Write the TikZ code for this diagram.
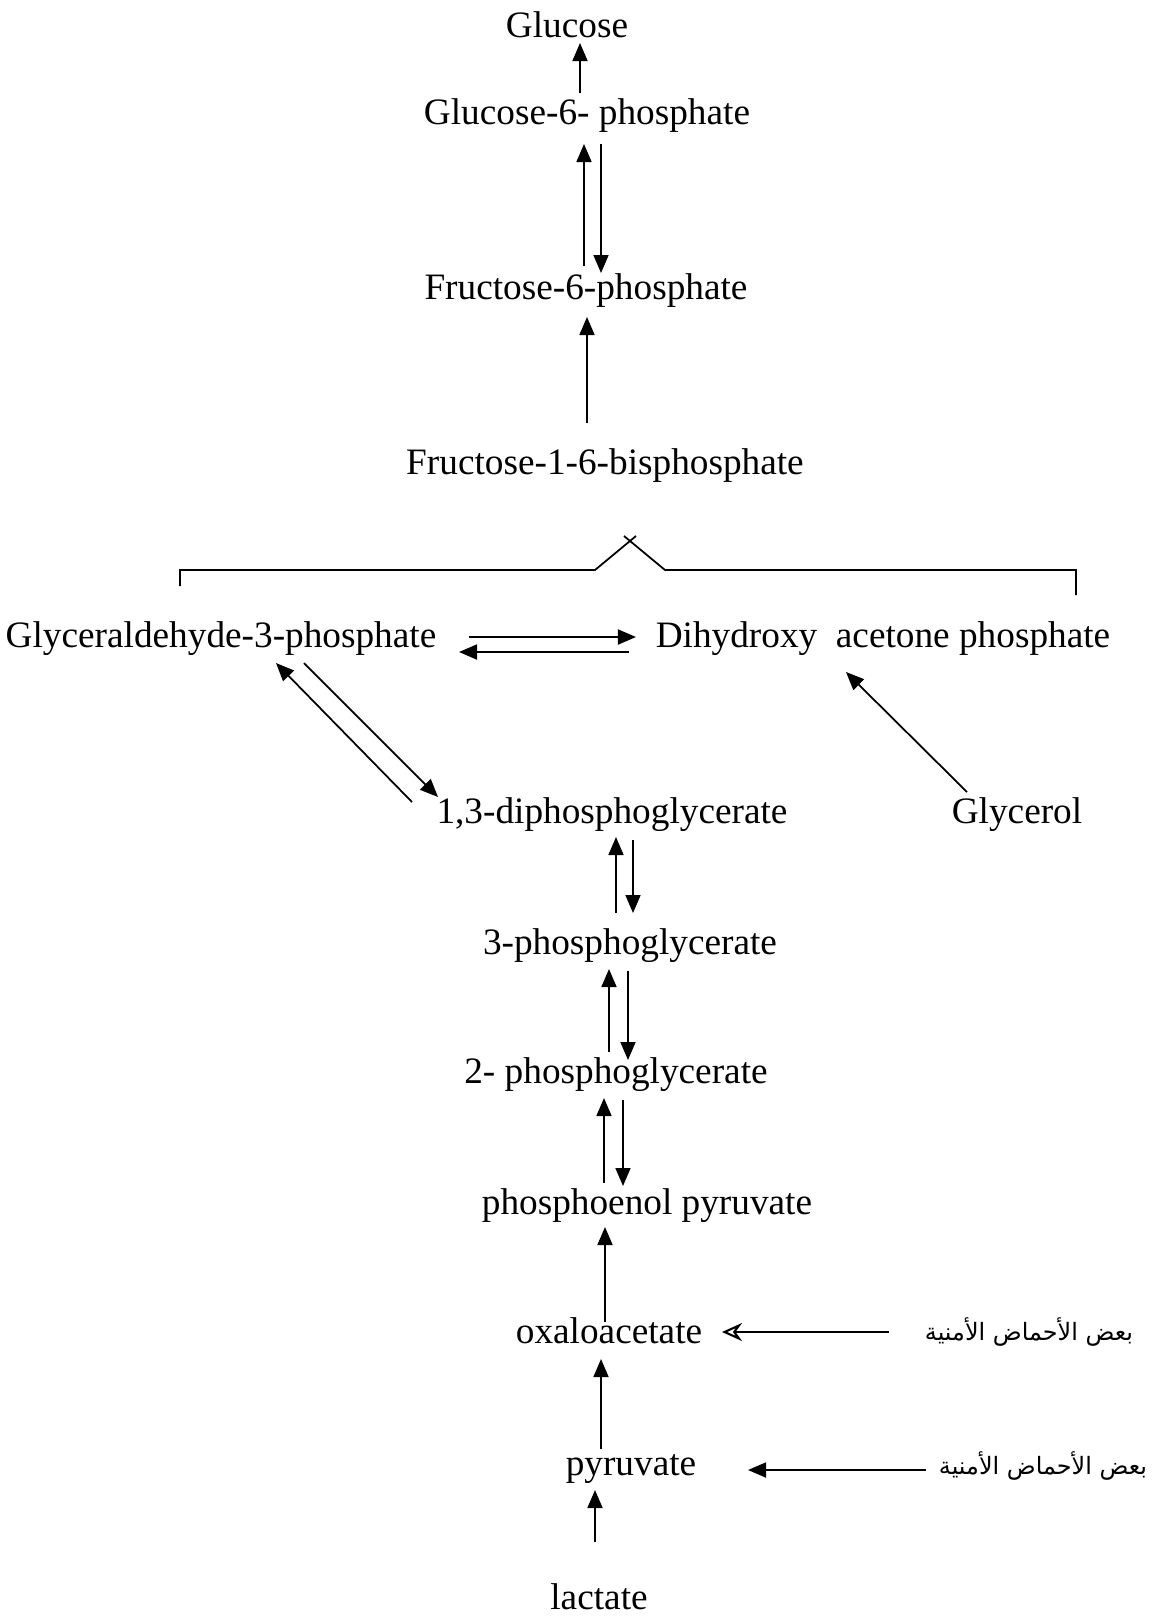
\documentclass[tikz,border=0pt]{standalone}
\usepackage{fontspec}
\setmainfont{Liberation Serif}
\newfontfamily\arabicfont[Script=Arabic]{DejaVu Sans}
\TeXXeTstate=1
\usepackage{tikz}
\usetikzlibrary{arrows.meta, calc}

\begin{document}
\begin{tikzpicture}[
    x=0.01cm, y=-0.01cm,
    met/.style={inner sep=0pt, text height=0.68em, text depth=0pt, font=\fontsize{10.6}{12}\selectfont},
    amino/.style={inner sep=0pt, font=\arabicfont\fontsize{6.8}{8}\selectfont},
    arr/.style={-{Triangle[length=0.18cm, width=0.15cm]}, line width=0.5pt},
    arrin/.style={-{Stealth[length=0.2cm, width=0.18cm, open]}, line width=0.6pt},
  ]
  \useasboundingbox (0,0) rectangle (1155,1617);

  % Metabolites
  \node[met] (glc)   at (567,26)   {Glucose};
  \node[met] (g6p)   at (587,113)  {Glucose-6- phosphate};
  \node[met] (f6p)   at (586,288)  {Fructose-6-phosphate};
  \node[met] (f16bp) at (605,463)  {Fructose-1-6-bisphosphate};
  \node[met] (gap)   at (221,636)  {Glyceraldehyde-3-phosphate};
  \node[met] (dhap)  at (883,636)  {Dihydroxy\ \ acetone phosphate};
  \node[met] (dpg)   at (612,812)  {1,3-diphosphoglycerate};
  \node[met] (glyc)  at (1017,812) {Glycerol};
  \node[met] (pg3)   at (630,943)  {3-phosphoglycerate};
  \node[met] (pg2)   at (616,1072) {2- phosphoglycerate};
  \node[met] (pep)   at (647,1203) {phosphoenol pyruvate};
  \node[met] (oaa)   at (609,1332) {oxaloacetate};
  \node[met] (pyr)   at (631,1464) {pyruvate};
  \node[met] (lac)   at (599,1598) {lactate};
  \node[amino] (aa1) at (1029,1332) {\beginR بعض الأحماض الأمنية\endR};
  \node[amino] (aa2) at (1043,1466) {\beginR بعض الأحماض الأمنية\endR};

  % Split of fructose-1-6-bisphosphate
  \draw[line width=0.5pt] (180,586) -- (180,570) -- (595,570) -- (636,536);
  \draw[line width=0.5pt] (624,536) -- (665,570) -- (1076,570) -- (1076,595);

  % Arrows
  \draw[arr] ($(g6p)+(-7,-20)$) -- ($(glc)+(13,17)$);
  \draw[arr] ($(f6p)+(-2,-22)$) -- ($(g6p)+(-3,31)$);
  \draw[arr] ($(g6p)+(14,31)$) -- ($(f6p)+(15,-15)$);
  \draw[arr] ($(f16bp)+(-18,-40)$) -- ($(f6p)+(1,29)$);
  \draw[arr] ($(gap)+(248,1)$) -- ($(dhap)+(-247,1)$);
  \draw[arr] ($(dhap)+(-254,16)$) -- ($(gap)+(238,16)$);
  \draw[arr] ($(gap)+(83,27)$) -- ($(dpg)+(-174,-15)$);
  \draw[arr] ($(dpg)+(-200,-10)$) -- ($(gap)+(55,27)$);
  \draw[arr] ($(glyc)+(-50,-20)$) -- ($(dhap)+(-37,36)$);
  \draw[arr] ($(pg3)+(-14,-30)$) -- ($(dpg)+(4,25)$);
  \draw[arr] ($(dpg)+(21,28)$) -- ($(pg3)+(3,-30)$);
  \draw[arr] ($(pg2)+(-7,-20)$) -- ($(pg3)+(-21,26)$);
  \draw[arr] ($(pg3)+(-2,28)$) -- ($(pg2)+(12,-12)$);
  \draw[arr] ($(pep)+(-43,-20)$) -- ($(pg2)+(-12,26)$);
  \draw[arr] ($(pg2)+(7,28)$) -- ($(pep)+(-24,-17)$);
  \draw[arr] ($(oaa)+(-4,-10)$) -- ($(pep)+(-42,24)$);
  \draw[arrin] ($(aa1)+(-140,0)$) -- ($(oaa)+(113,0)$);
  \draw[arr] ($(pyr)+(-30,-15)$) -- ($(oaa)+(-8,27)$);
  \draw[arr] ($(aa2)+(-117,4)$) -- ($(pyr)+(117,6)$);
  \draw[arr] ($(lac)+(-4,-56)$) -- ($(pyr)+(-36,26)$);
\end{tikzpicture}
\end{document}
